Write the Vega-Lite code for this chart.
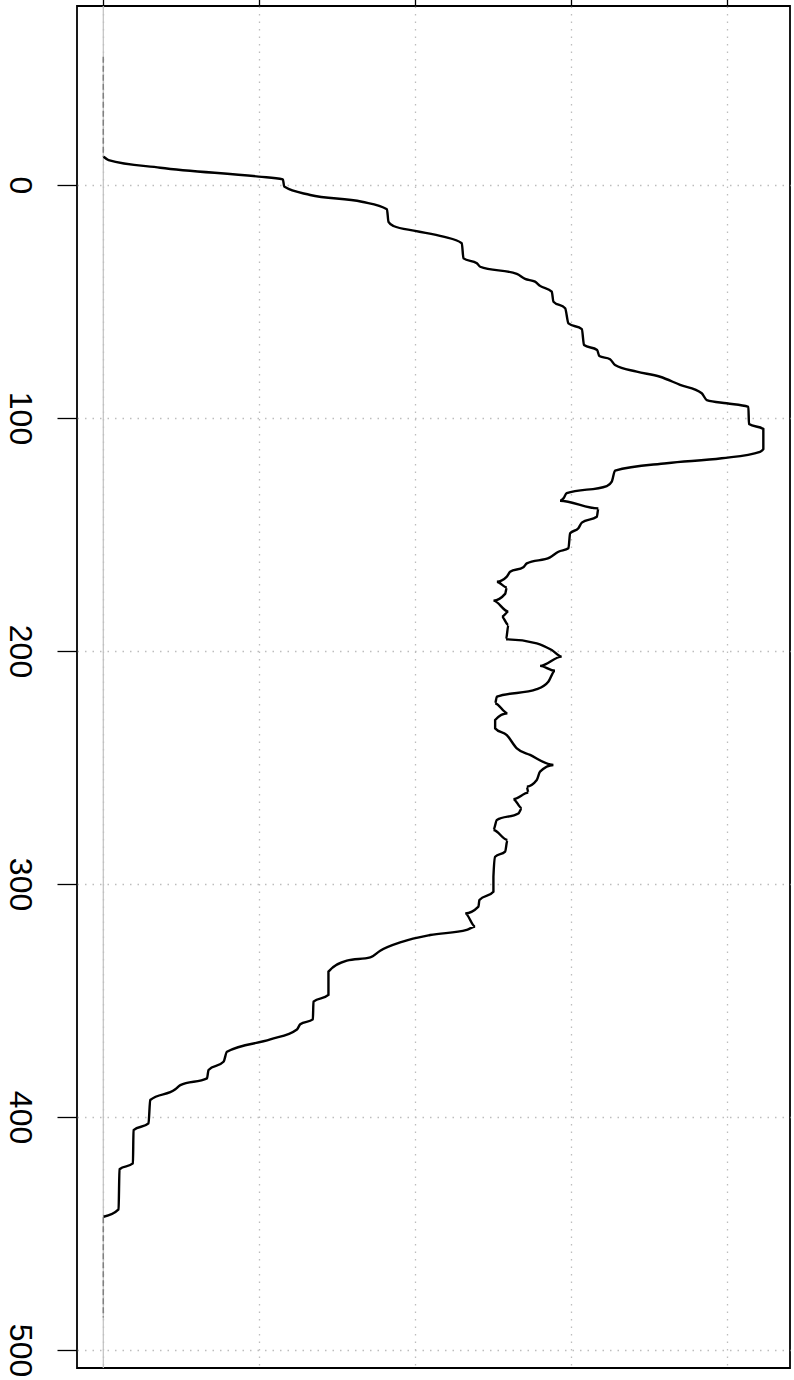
{
  "$schema": "https://vega.github.io/schema/vega-lite/v6.json",
  "width": 713,
  "height": 1362,
  "autosize": "none",
  "padding": {"left": 77, "top": 6, "right": 4, "bottom": 12},
  "background": "white",
  "config": {
    "view": {"stroke": "black", "strokeWidth": 1.8},
    "font": "Liberation Sans",
    "axis": {
      "domain": false,
      "grid": true,
      "gridColor": "#bdbdbd",
      "gridDash": [1.5, 6],
      "gridWidth": 1.3,
      "tickColor": "black",
      "tickWidth": 1.3,
      "tickSize": 20,
      "labelColor": "black",
      "title": null
    }
  },
  "datasets": {
    "zero": [{"d": 0}],
    "tails": [
      {"part": "top", "v": -55, "d": 0},
      {"part": "top", "v": -12, "d": 0},
      {"part": "bottom", "v": 443, "d": 0},
      {"part": "bottom", "v": 486, "d": 0}
    ],
    "curve": [
      {"v": -12.1, "d": 0.000002},
      {"v": -10.7, "d": 0.000034},
      {"v": -7.4, "d": 0.000365},
      {"v": -3.6, "d": 0.000996},
      {"v": -2.4, "d": 0.001152},
      {"v": 0.7, "d": 0.001160},
      {"v": 4.3, "d": 0.001327},
      {"v": 7.2, "d": 0.001658},
      {"v": 10.4, "d": 0.001819},
      {"v": 15.8, "d": 0.001829},
      {"v": 17.6, "d": 0.001861},
      {"v": 19.7, "d": 0.002000},
      {"v": 22.2, "d": 0.002181},
      {"v": 25.0, "d": 0.002299},
      {"v": 31.5, "d": 0.002310},
      {"v": 33.6, "d": 0.002396},
      {"v": 35.1, "d": 0.002417},
      {"v": 38.2, "d": 0.002652},
      {"v": 40.3, "d": 0.002705},
      {"v": 41.5, "d": 0.002769},
      {"v": 43.3, "d": 0.002801},
      {"v": 45.8, "d": 0.002876},
      {"v": 50.1, "d": 0.002887},
      {"v": 52.9, "d": 0.002962},
      {"v": 59.4, "d": 0.002983},
      {"v": 61.9, "d": 0.003069},
      {"v": 68.7, "d": 0.003083},
      {"v": 70.8, "d": 0.003167},
      {"v": 73.4, "d": 0.003181},
      {"v": 74.8, "d": 0.003250},
      {"v": 77.3, "d": 0.003282},
      {"v": 80.1, "d": 0.003421},
      {"v": 82.3, "d": 0.003571},
      {"v": 85.8, "d": 0.003699},
      {"v": 89.4, "d": 0.003838},
      {"v": 92.3, "d": 0.003870},
      {"v": 93.7, "d": 0.003998},
      {"v": 95.2, "d": 0.004137},
      {"v": 102.6, "d": 0.004141},
      {"v": 104.7, "d": 0.004233},
      {"v": 113.4, "d": 0.004233},
      {"v": 114.5, "d": 0.004212},
      {"v": 117.3, "d": 0.003966},
      {"v": 119.4, "d": 0.003613},
      {"v": 122.6, "d": 0.003282},
      {"v": 127.3, "d": 0.003261},
      {"v": 129.2, "d": 0.003229},
      {"v": 132.3, "d": 0.002972},
      {"v": 134.5, "d": 0.002951},
      {"v": 135.5, "d": 0.002929},
      {"v": 138.8, "d": 0.003175},
      {"v": 142.4, "d": 0.003165},
      {"v": 144.9, "d": 0.003069},
      {"v": 147.3, "d": 0.003047},
      {"v": 149.5, "d": 0.002994},
      {"v": 155.9, "d": 0.002983},
      {"v": 157.4, "d": 0.002919},
      {"v": 159.8, "d": 0.002865},
      {"v": 162.4, "d": 0.002716},
      {"v": 164.1, "d": 0.002694},
      {"v": 166.0, "d": 0.002609},
      {"v": 168.1, "d": 0.002588},
      {"v": 170.3, "d": 0.002524},
      {"v": 172.7, "d": 0.002588},
      {"v": 175.5, "d": 0.002577},
      {"v": 178.4, "d": 0.002502},
      {"v": 183.1, "d": 0.002598},
      {"v": 185.3, "d": 0.002556},
      {"v": 188.8, "d": 0.002598},
      {"v": 195.0, "d": 0.002583},
      {"v": 196.7, "d": 0.002780},
      {"v": 199.6, "d": 0.002876},
      {"v": 202.4, "d": 0.002940},
      {"v": 206.4, "d": 0.002801},
      {"v": 208.5, "d": 0.002897},
      {"v": 213.2, "d": 0.002854},
      {"v": 216.4, "d": 0.002780},
      {"v": 219.6, "d": 0.002524},
      {"v": 222.5, "d": 0.002513},
      {"v": 226.7, "d": 0.002592},
      {"v": 229.6, "d": 0.002513},
      {"v": 233.2, "d": 0.002513},
      {"v": 236.1, "d": 0.002588},
      {"v": 241.8, "d": 0.002652},
      {"v": 244.6, "d": 0.002737},
      {"v": 248.9, "d": 0.002887},
      {"v": 251.8, "d": 0.002801},
      {"v": 255.4, "d": 0.002780},
      {"v": 258.2, "d": 0.002716},
      {"v": 260.8, "d": 0.002726},
      {"v": 263.6, "d": 0.002630},
      {"v": 267.5, "d": 0.002684},
      {"v": 269.7, "d": 0.002662},
      {"v": 272.5, "d": 0.002524},
      {"v": 276.8, "d": 0.002502},
      {"v": 281.1, "d": 0.002592},
      {"v": 286.1, "d": 0.002577},
      {"v": 288.3, "d": 0.002513},
      {"v": 296.9, "d": 0.002502},
      {"v": 303.3, "d": 0.002502},
      {"v": 306.9, "d": 0.002412},
      {"v": 309.7, "d": 0.002406},
      {"v": 312.6, "d": 0.002321},
      {"v": 318.3, "d": 0.002385},
      {"v": 319.7, "d": 0.002331},
      {"v": 321.9, "d": 0.002096},
      {"v": 324.8, "d": 0.001915},
      {"v": 328.6, "d": 0.001776},
      {"v": 331.5, "d": 0.001712},
      {"v": 332.9, "d": 0.001562},
      {"v": 337.6, "d": 0.001444},
      {"v": 347.6, "d": 0.001444},
      {"v": 350.5, "d": 0.001348},
      {"v": 358.1, "d": 0.001344},
      {"v": 360.2, "d": 0.001263},
      {"v": 362.4, "d": 0.001242},
      {"v": 366.7, "d": 0.001071},
      {"v": 372.0, "d": 0.000793},
      {"v": 376.3, "d": 0.000771},
      {"v": 379.8, "d": 0.000675},
      {"v": 383.4, "d": 0.000665},
      {"v": 386.3, "d": 0.000494},
      {"v": 388.1, "d": 0.000462},
      {"v": 392.7, "d": 0.000301},
      {"v": 402.7, "d": 0.000290},
      {"v": 405.6, "d": 0.000194},
      {"v": 419.9, "d": 0.000190},
      {"v": 422.4, "d": 0.000104},
      {"v": 439.6, "d": 0.000098},
      {"v": 442.8, "d": 0.000002}
    ]
  },
  "layer": [
    {
      "data": {"name": "zero"},
      "mark": {"type": "rule", "color": "#c0c0c0", "strokeWidth": 1.2},
      "encoding": {
        "x": {
          "field": "d",
          "type": "quantitative",
          "scale": {"domain": [-0.0001686, 0.004404], "nice": false, "zero": false},
          "axis": {
            "orient": "top",
            "values": [0, 0.001, 0.002, 0.003, 0.004],
            "labels": false,
            "title": null
          }
        }
      }
    },
    {
      "data": {"name": "tails"},
      "mark": {"type": "line", "color": "#808080", "strokeWidth": 1.5, "strokeDash": [6, 3]},
      "encoding": {
        "x": {
          "field": "d",
          "type": "quantitative",
          "scale": {"domain": [-0.0001686, 0.004404], "nice": false, "zero": false}
        },
        "y": {
          "field": "v",
          "type": "quantitative",
          "scale": {"domain": [-76.8, 507.7], "nice": false, "zero": false, "reverse": true},
          "axis": {
            "values": [0, 100, 200, 300, 400, 500],
            "labelAngle": 90,
            "labelAlign": "center",
            "labelBaseline": "top",
            "labelFontSize": 32,
            "labelPadding": 23,
            "labelOverlap": false,
            "labelFlush": false,
            "title": null
          }
        },
        "detail": {"field": "part", "type": "nominal"}
      }
    },
    {
      "data": {"name": "curve"},
      "mark": {"type": "line", "color": "black", "strokeWidth": 2.4, "orient": "horizontal", "interpolate": "monotone"},
      "encoding": {
        "x": {
          "field": "d",
          "type": "quantitative",
          "scale": {"domain": [-0.0001686, 0.004404], "nice": false, "zero": false}
        },
        "y": {
          "field": "v",
          "type": "quantitative",
          "scale": {"domain": [-76.8, 507.7], "nice": false, "zero": false, "reverse": true}
        },
        "order": {"field": "v", "type": "quantitative"}
      }
    }
  ]
}
